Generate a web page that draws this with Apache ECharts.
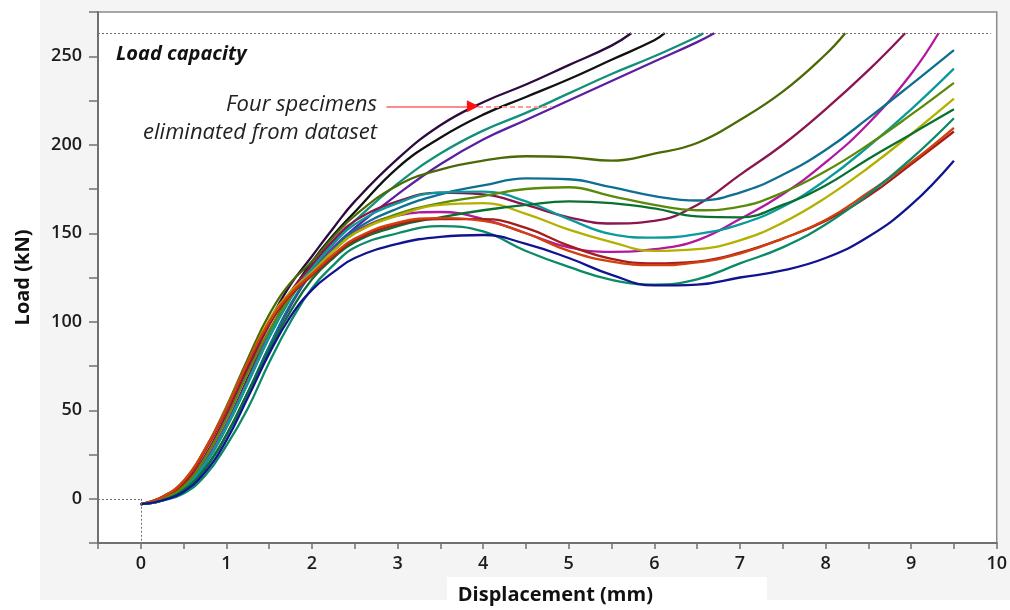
<!DOCTYPE html>
<html>
<head>
<meta charset="utf-8">
<script src="https://cdn.jsdelivr.net/npm/echarts@6/dist/echarts.min.js"></script>
<style>
  html, body { margin: 0; padding: 0; background: #fff; }
  #chart { width: 1010px; height: 610px; }
</style>
</head>
<body>
<div id="chart"></div>
<script>
// displacement grid (mm), shared by every specimen
const disp = [0, 0.25, 0.5, 0.75, 1, 1.25, 1.5, 1.75, 2, 2.25, 2.5, 3, 3.5, 4, 4.5, 5, 5.5, 6, 6.5, 7, 7.5, 8, 8.5, 9, 9.5];

const loadCapacity = 263;

// four specimens eliminated from the dataset
const elim1 = [-3, 0, 8, 24, 47, 74, 100, 121, 137, 153, 168, 192, 211, 224, 234, 245, 256];
const elim2 = [-3, 0, 6, 21, 42, 68, 94, 116, 134, 149, 162, 187, 204, 217, 227, 237, 248, 259];
const elim3 = [-3, -1, 5, 19, 40, 65, 91, 113, 131, 145, 157, 178, 195, 208, 218, 229, 240, 250, 261];
const elim4 = [-3, -1, 5, 17, 36, 60, 86, 109, 128, 142, 153, 172, 189, 203, 214, 225, 236, 247, 258];

// retained specimens
const spOlive   = [-3, 1, 10, 28, 52, 79, 104, 122, 134, 148, 160, 177, 186, 191, 193.5, 193, 191, 195, 201, 214, 230, 251];
const spMaroon  = [-3, 0, 8, 24, 47, 73, 98, 117, 132, 146, 157, 168, 173, 172, 166, 159, 155.5, 157, 166, 183, 200, 220, 242];
const spMagenta = [-3, 0, 6, 21, 42, 67, 93, 114, 130, 142, 151, 160, 162, 158, 150, 142, 139.5, 141, 146, 158, 172, 190, 212, 240];
const spSteel   = [-3, -1, 5, 17, 36, 60, 86, 110, 128, 141, 152, 164, 172, 177, 181, 180.5, 176, 171, 168.5, 173, 183, 197, 215, 234, 253.5];
const spTeal    = [-3, 0, 6, 20, 41, 66, 92, 114, 130, 144, 155, 167, 173, 173.5, 168, 158, 149.5, 147.5, 149.5, 155, 165, 180, 199, 220, 243];
const spLime    = [-3, 0, 7, 23, 45, 71, 95, 114, 128, 140, 150, 161, 167, 171, 175, 176, 171, 166, 163, 165, 173, 185, 200, 217, 235];
const spYellow  = [-3, 1, 10, 27, 51, 77, 101, 117, 128, 140, 150, 160, 166, 167, 161, 152, 145, 140, 141, 146, 156, 170, 187, 206, 226];
const spGreen   = [-3, -1, 5, 17, 36, 60, 84, 106, 124, 136, 145, 154, 159, 163, 166, 168, 167, 164, 159.5, 159, 166, 177, 192, 206, 220];
const spDarkRed = [-3, 1, 9, 27, 50, 76, 99, 115, 126, 137, 146, 155, 158, 158, 153, 143, 135.5, 133, 134, 139, 147, 157, 171, 189, 207.5];
const spOrange  = [-3, 1, 10, 28, 51, 77, 100, 116, 127, 138, 147, 156, 158.5, 157, 150, 140, 134, 132, 133.5, 138.5, 147, 157.5, 173, 190, 209.6];
const spSea     = [-3, -1, 3, 13, 30, 51, 77, 100, 119, 132, 142, 150, 154, 151, 140, 131, 123.7, 121, 124, 133, 142, 155, 172, 192, 215];
const spBlue    = [-3, -1, 4, 15, 33, 57, 82, 103, 118, 128, 136, 144, 148, 149, 144, 136, 126.5, 120.5, 121, 125, 129, 136, 148, 166, 191];

const loads = [elim1, elim2, elim3, elim4, spOlive, spMaroon, spMagenta, spSteel, spTeal, spLime,
  spYellow, spGreen, spDarkRed, spOrange, spSea, spBlue];
// displacement where a curve reaches the capacity line (null = runs to the end)
const capDisp = [5.73, 6.12, 6.57, 6.7, 8.23, 8.93, 9.32, null, null, null, null, null, null, null, null, null];

const colors = ['#2d0b3f', '#111111', '#12917a', '#5b1fa0', '#4b6a05', '#8c1550', '#b2189f', '#0e6f93',
  '#0a9a9c', '#5b8a0a', '#b3b000', '#0a7030', '#a41c1c', '#d2400e', '#0b8a68', '#12138f'];

function toPoints(load, cap) {
  const pts = load.map((y, i) => [disp[i], y]);
  if (cap != null) pts.push([cap, loadCapacity]);
  return pts;
}

const guide = { color: '#6f6f6f', width: 1, type: [2, 2] };

const series = loads.map((load, i) => ({
  type: 'line',
  data: toPoints(load, capDisp[i]),
  smooth: 0.45,
  showSymbol: false,
  clip: true,
  lineStyle: { color: colors[i], width: 2.3 },
  itemStyle: { color: colors[i] },
  z: 3
}));

// capacity line, origin guides and the arrow pointing at eliminated curves
series[0].markLine = {
  silent: true,
  symbol: ['none', 'none'],
  label: { show: false },
  data: [
    [{ coord: [-0.5, loadCapacity], lineStyle: guide }, { coord: [9.93, loadCapacity] }],
    [{ coord: [-0.5, 0], lineStyle: guide }, { coord: [0, 0] }],
    [{ coord: [0, 0], lineStyle: guide }, { coord: [0, -25] }],
    [{ coord: [2.87, 221.7], lineStyle: { color: '#ff8a8a', width: 2, type: 'solid' } }, { coord: [3.87, 221.7] }],
    [{ coord: [3.94, 221.7], lineStyle: { color: '#ff9a9a', width: 2, type: [5, 3] } }, { coord: [4.8, 221.7] }]
  ]
};
series[0].markPoint = {
  silent: true,
  label: { show: false },
  data: [{ coord: [3.88, 221.7], symbol: 'triangle', symbolSize: [12, 12], symbolRotate: -90, itemStyle: { color: '#ff1010' } }]
};

const chart = echarts.init(document.getElementById('chart'));
chart.setOption({
  animation: false,
  backgroundColor: '#ffffff',
  graphic: {
    elements: [
      { type: 'rect', z: -100, shape: { x: 40, y: 0, width: 970, height: 600 }, style: { fill: '#f4f4f4' } },
      { type: 'rect', z: -90, shape: { x: 447, y: 577, width: 320, height: 33 }, style: { fill: '#ffffff' } },
      { type: 'text', x: 116, y: 54, z: 10, style: { text: 'Load capacity', font: 'italic bold 20px "Open Sans"', fill: '#111', verticalAlign: 'middle' } },
      { type: 'text', x: 377, y: 105, z: 10, style: { text: 'Four specimens', font: 'italic 22px "Open Sans"', fill: '#222', align: 'right', verticalAlign: 'middle' } },
      { type: 'text', x: 377, y: 133, z: 10, style: { text: 'eliminated from dataset', font: 'italic 22px "Open Sans"', fill: '#222', align: 'right', verticalAlign: 'middle' } }
    ]
  },
  grid: {
    left: 98, right: 12, top: 12, bottom: 63,
    show: true,
    backgroundColor: '#ffffff',
    borderColor: '#8a8a8a',
    borderWidth: 1.5
  },
  xAxis: {
    type: 'value',
    min: -0.5, max: 10, interval: 0.5,
    name: 'Displacement (mm)',
    nameLocation: 'middle',
    nameGap: 42,
    nameTextStyle: { fontFamily: 'Open Sans', fontSize: 20, fontWeight: 'bold', color: '#111', padding: [0, 0, 0, 16] },
    axisLine: { onZero: false, lineStyle: { color: '#707070', width: 2 } },
    axisTick: { show: true, length: 6, lineStyle: { color: '#707070', width: 1.5 } },
    axisLabel: {
      margin: 12,
      fontFamily: 'Open Sans', fontSize: 18, fontWeight: 600, color: '#1c1c1c',
      formatter: v => (Number.isInteger(v) && v >= 0 ? String(v) : '')
    },
    splitLine: { show: false }
  },
  yAxis: {
    type: 'value',
    min: -25, max: 275, interval: 25,
    name: 'Load (kN)',
    nameLocation: 'middle',
    nameGap: 65,
    nameTextStyle: { fontFamily: 'Open Sans', fontSize: 20, fontWeight: 'bold', color: '#111' },
    axisLine: { onZero: false, lineStyle: { color: '#707070', width: 2 } },
    axisTick: { show: true, length: 9, lineStyle: { color: '#707070', width: 1.5 } },
    axisLabel: {
      margin: 16,
      fontFamily: 'Open Sans', fontSize: 18, fontWeight: 600, color: '#1c1c1c',
      formatter: v => (v % 50 === 0 && v >= 0 && v <= 250 ? String(v) : '')
    },
    splitLine: { show: false }
  },
  series: series
});
</script>
</body>
</html>
